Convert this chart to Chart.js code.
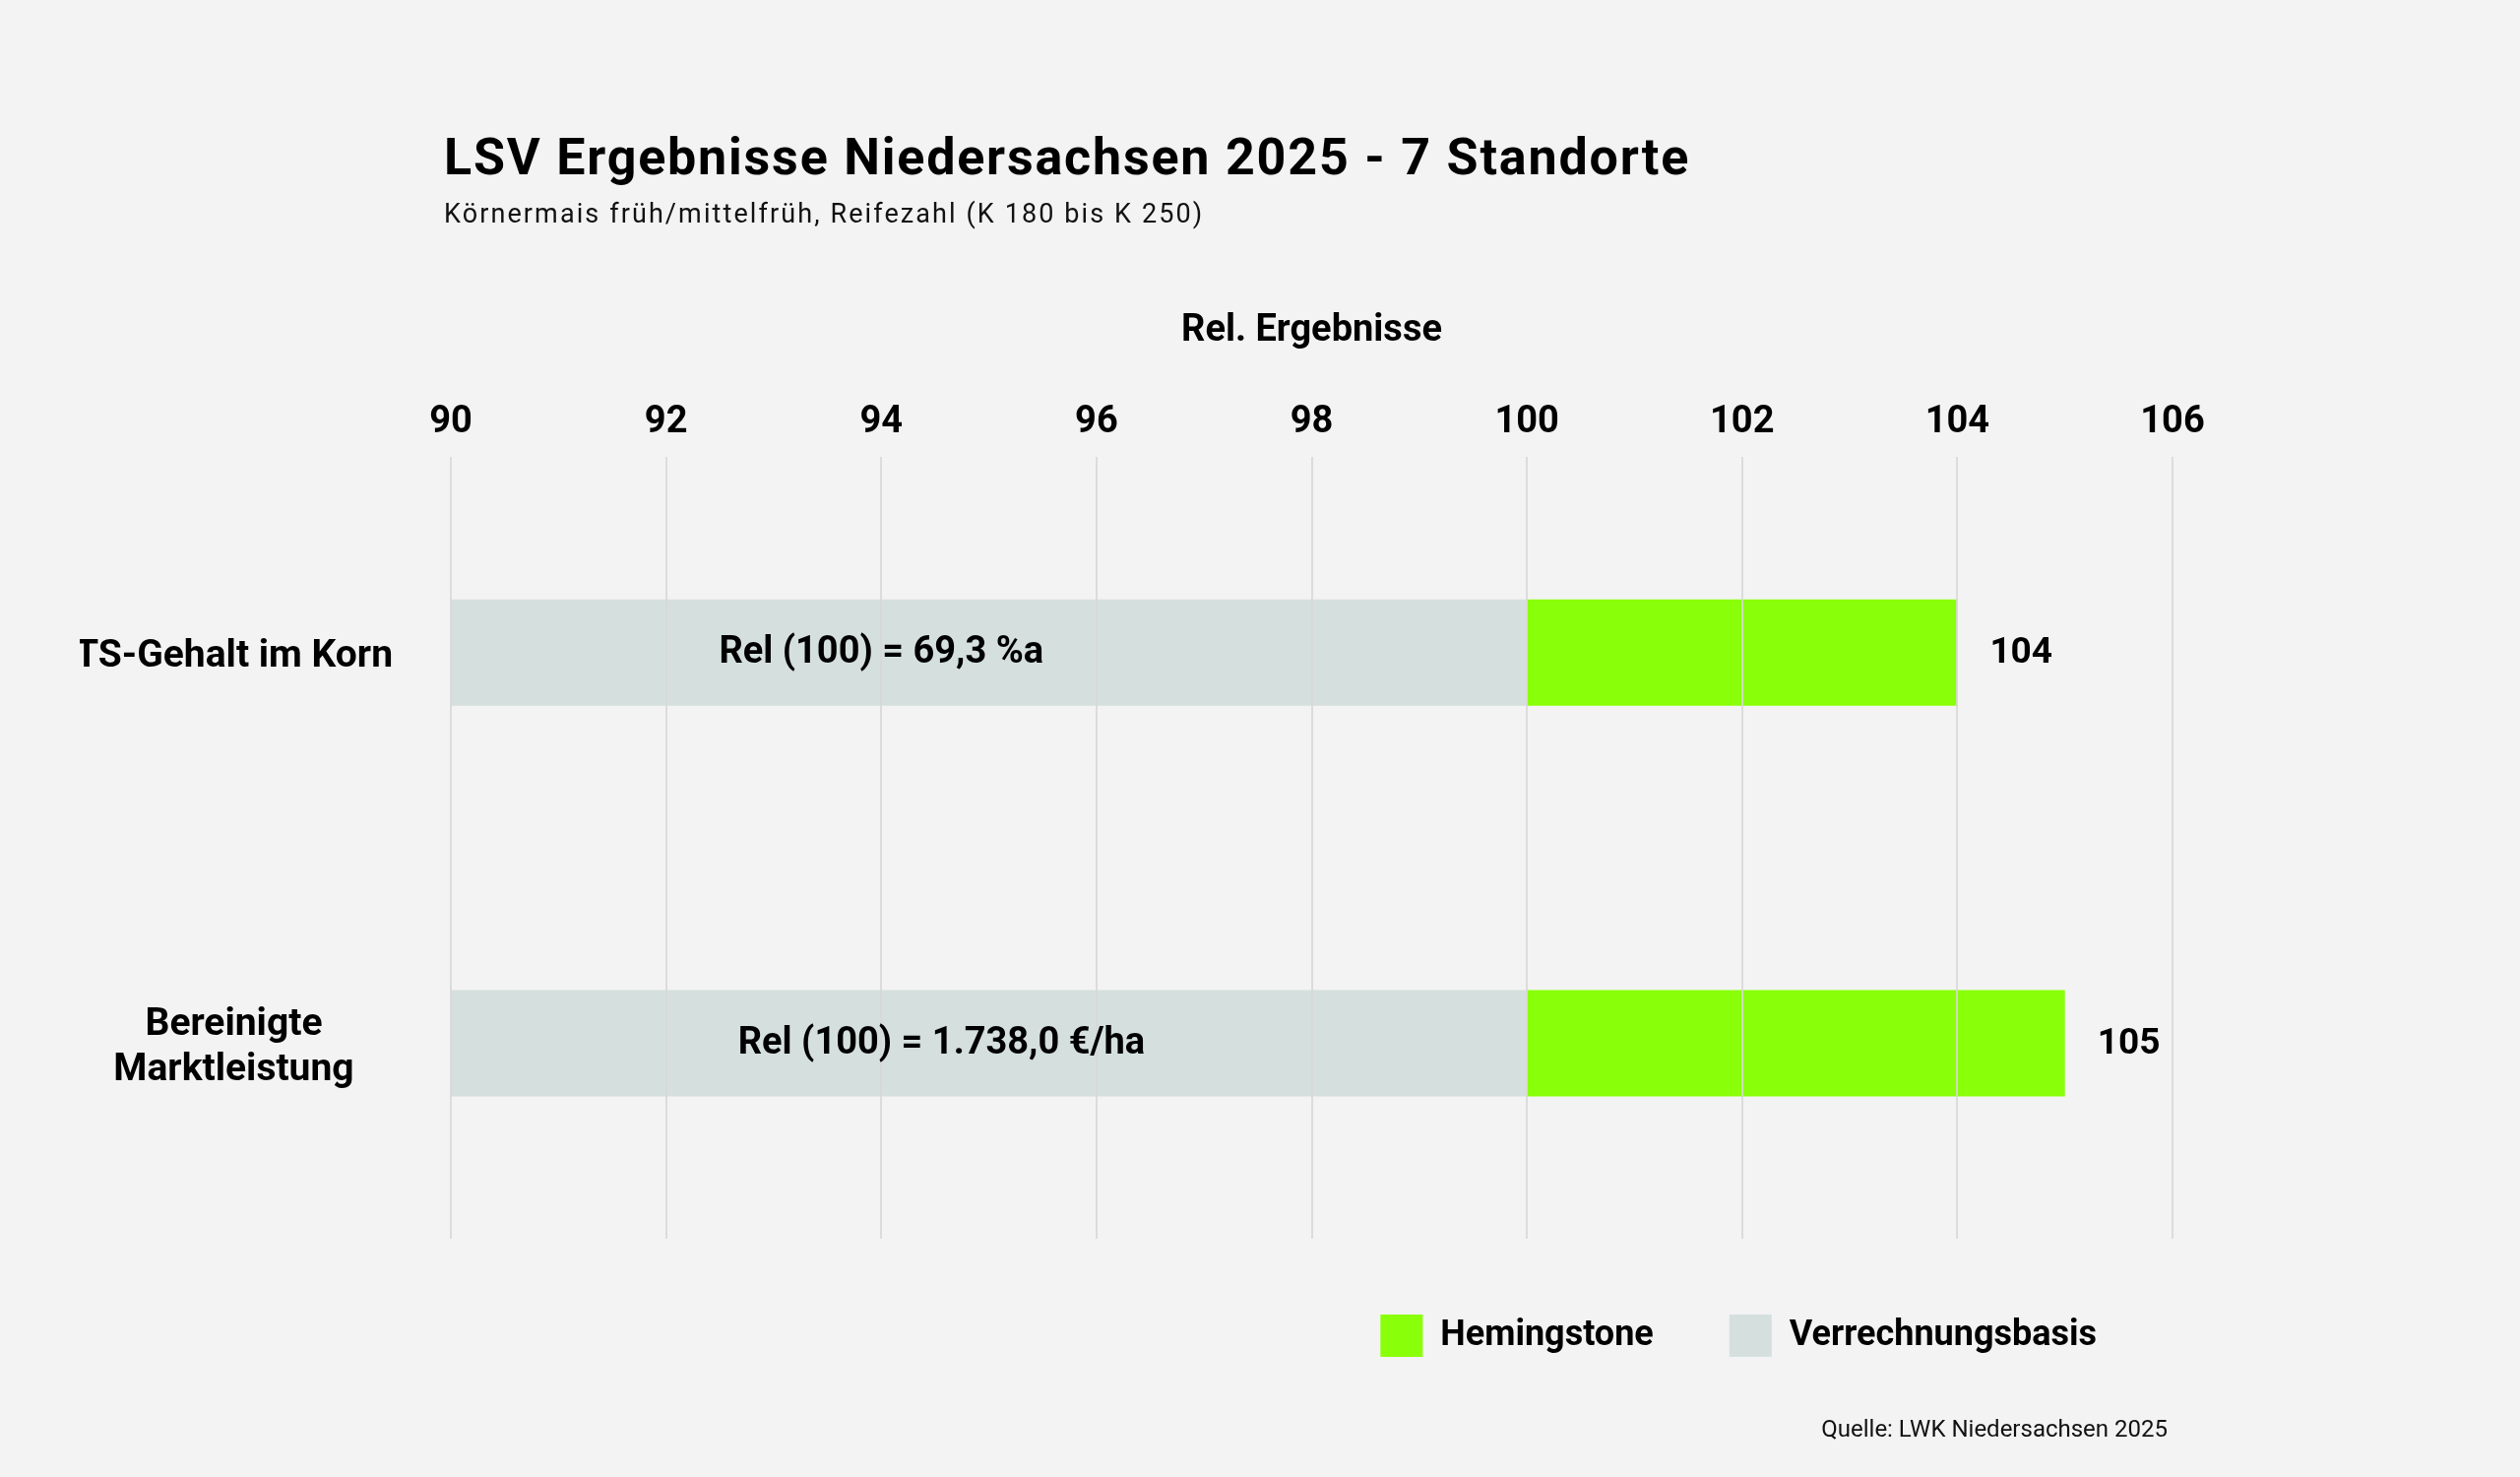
<!DOCTYPE html>
<html lang="de">
<head>
<meta charset="utf-8">
<title>LSV Ergebnisse Niedersachsen 2025</title>
<script src="https://cdn.jsdelivr.net/npm/chart.js@4.4.1/dist/chart.umd.min.js"></script>
<style>
  html, body { margin: 0; padding: 0; background: #f3f3f3; overflow: hidden; }
  #wrap { width: 2560px; height: 1500px; }
</style>
</head>
<body>
<div id="wrap"><canvas id="myChart" width="2560" height="1500"></canvas></div>
<script>
'use strict';

// data
const categories = [['TS-Gehalt im Korn'], ['Bereinigte', 'Marktleistung']];
const hemingstone = [104, 105];
const basisValue = 100;
const basisTexts = ['Rel (100) = 69,3 %a', 'Rel (100) = 1.738,0 €/ha'];
const axisMin = 90;
const axisMax = 106;
const axisStep = 2;

const titleText = 'LSV Ergebnisse Niedersachsen 2025 - 7 Standorte';
const subtitleText = 'Körnermais früh/mittelfrüh, Reifezahl (K 180 bis K 250)';
const sourceText = 'Quelle: LWK Niedersachsen 2025';

const green = '#8aff0a';
const grey = '#d5e0de';

let hemData = hemingstone.map(v => [basisValue, v]);
let basisData = categories.map(() => [axisMin, basisValue]);

// titles, labels in the bars and the value labels
const extraText = {
  id: 'extraText',
  afterDraw(chart) {
    const ctx = chart.ctx;
    const x = chart.scales.x;
    const y = chart.scales.y;
    ctx.save();
    ctx.fillStyle = '#000';
    ctx.textAlign = 'left';
    ctx.textBaseline = 'alphabetic';
    ctx.font = 'bold 52px Roboto';
    ctx.letterSpacing = '1.8px';
    ctx.fillText(titleText, 451, 177);
    ctx.fillStyle = '#111';
    ctx.font = '27px Roboto';
    ctx.letterSpacing = '2.1px';
    ctx.fillText(subtitleText, 451, 226);

    ctx.letterSpacing = '0px';
    ctx.font = '24px Roboto';
    ctx.textAlign = 'right';
    ctx.fillText(sourceText, 2202, 1459);

    // text inside the grey part
    const centers = [94.0, 94.56];
    ctx.font = 'bold 38px Roboto';
    ctx.textAlign = 'center';
    ctx.textBaseline = 'middle';
    ctx.fillStyle = '#000';
    for (let i = 0; i < basisTexts.length; i++) {
      ctx.fillText(basisTexts[i], x.getPixelForValue(centers[i]), y.getPixelForValue(i) + 1);
    }

    // values at the end of the green bars
    ctx.font = 'bold 37px Roboto';
    ctx.textAlign = 'left';
    for (let i = 0; i < hemingstone.length; i++) {
      ctx.fillText(String(hemingstone[i]), x.getPixelForValue(hemingstone[i]) + 33, y.getPixelForValue(i) + 1);
    }
    ctx.restore();
  }
};

let ctx = document.getElementById('myChart').getContext('2d');

let myChart = new Chart(ctx, {
  type: 'bar',
  data: {
    labels: categories,
    datasets: [{
      label: 'Hemingstone',
      data: hemData,
      backgroundColor: green,
      borderWidth: 0,
      grouped: false,
      categoryPercentage: 1,
      barPercentage: 0.272
    }, {
      label: 'Verrechnungsbasis',
      data: basisData,
      backgroundColor: grey,
      borderWidth: 0,
      grouped: false,
      categoryPercentage: 1,
      barPercentage: 0.272
    }]
  },
  options: {
    indexAxis: 'y',
    responsive: false,
    animation: false,
    devicePixelRatio: 1,
    layout: {
      padding: { top: 314, right: 353, bottom: 112, left: 81 }
    },
    scales: {
      x: {
        position: 'top',
        min: axisMin,
        max: axisMax,
        border: { display: false },
        grid: {
          color: 'rgba(215,215,215,0.85)',
          lineWidth: 2,
          drawTicks: false,
          z: 1
        },
        ticks: {
          stepSize: axisStep,
          color: '#000',
          padding: 12,
          font: { family: 'Roboto', size: 38, weight: 'bold' }
        },
        title: {
          display: true,
          text: 'Rel. Ergebnisse',
          color: '#000',
          font: { family: 'Roboto', size: 38, weight: 'bold' },
          padding: { top: 0, bottom: 35 }
        }
      },
      y: {
        border: { display: false },
        grid: { display: false, drawTicks: false },
        ticks: {
          color: '#000',
          crossAlign: 'center',
          padding: 59,
          labelOffset: 5,
          font: { family: 'Roboto', size: 39, weight: 'bold', lineHeight: 1.18 }
        },
        afterFit(scale) {
          scale.width = 377;
        }
      }
    },
    plugins: {
      legend: {
        position: 'bottom',
        align: 'end',
        labels: {
          boxWidth: 43,
          boxHeight: 43,
          padding: 77,
          color: '#000',
          font: { family: 'Roboto', size: 36, weight: 'bold' }
        }
      },
      tooltip: { enabled: false }
    }
  },
  plugins: [extraText]
});
</script>
</body>
</html>
